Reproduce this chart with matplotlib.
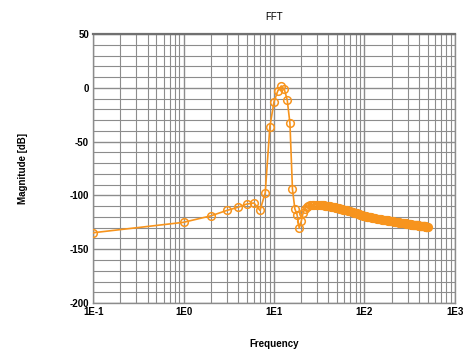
#!/usr/bin/env python
"""FFT magnitude plot (log frequency axis)"""

import numpy as np
import matplotlib.pyplot as plt
from matplotlib import font_manager
from matplotlib.ticker import FixedLocator, FuncFormatter, MultipleLocator

plt.rcParams['axes.unicode_minus'] = False

# pick the regular-width Liberation Sans files (not the Narrow ones)
def find_font(name):
    for f in font_manager.fontManager.ttflist:
        if f.fname.endswith(name):
            return font_manager.FontProperties(fname=f.fname)
    return font_manager.FontProperties(family='DejaVu Sans')

font_reg = find_font('LiberationSans-Regular.ttf')
font_bold = find_font('LiberationSans-Bold.ttf')
font_reg.set_size(7)
font_bold.set_size(7)

#%%
### Data ###
# low bins: DC shown at 0.1 Hz, then 1..21 Hz
head_freq = [0.1, 1, 2, 3, 4, 5, 6, 7, 8, 9, 10, 11, 12, 13, 14, 15, 16, 17, 18, 19, 20, 21]
head_mag = [-134.7, -125.0, -119.0, -114.0, -111.0, -108.0, -107.0, -114.0, -97.5, -36.0,
            -13.0, -3.0, 1.7, -1.4, -11.3, -33.0, -94.4, -112.5, -118.0, -130.5, -124.0, -116.0]

# tail bins (22..500 Hz)
tail_freq = list(range(22, 61)) + list(range(62, 121, 2)) + list(range(124, 249, 4)) + list(range(255, 501, 5))
tail_mag = [
    -112.5, -110.6, -109.6, -109.1, -108.8, -108.7, -108.6, -108.6, -108.6, -108.7,
    -108.8, -108.9, -109.0, -109.2, -109.3, -109.5, -109.6, -109.8, -110.0, -110.2,
    -110.3, -110.5, -110.7, -110.9, -111.0, -111.2, -111.4, -111.6, -111.8, -111.9,
    -112.1, -112.3, -112.5, -112.6, -112.8, -112.9, -113.1, -113.2, -113.3,
    # 62..120 step 2
    -113.6, -114.0, -114.3, -114.6, -114.9, -115.3, -115.6, -115.9, -116.2, -116.5,
    -116.8, -117.1, -117.4, -117.7, -118.0, -118.2, -118.5, -118.7, -119.0, -119.2,
    -119.4, -119.5, -119.7, -119.8, -120.0, -120.1, -120.3, -120.4, -120.5, -120.6,
    # 124..248 step 4
    -120.8, -121.1, -121.3, -121.5, -121.7, -121.9, -122.1, -122.3, -122.4, -122.6,
    -122.7, -122.9, -123.0, -123.2, -123.3, -123.4, -123.5, -123.6, -123.7, -123.8,
    -124.0, -124.1, -124.3, -124.4, -124.5, -124.7, -124.8, -124.9, -125.0, -125.1,
    -125.2, -125.3,
    # 255..500 step 5
    -125.5, -125.6, -125.7, -125.8, -125.9, -126.0, -126.1, -126.3, -126.4, -126.5,
    -126.6, -126.7, -126.8, -126.9, -127.0, -127.1, -127.1, -127.2, -127.3, -127.4,
    -127.4, -127.5, -127.6, -127.7, -127.7, -127.8, -127.8, -127.9, -127.9, -128.0,
    -128.1, -128.1, -128.2, -128.3, -128.3, -128.4, -128.4, -128.5, -128.6, -128.6,
    -128.7, -128.7, -128.8, -128.8, -128.9, -128.9, -128.9, -129.0, -129.0, -129.0,
]

freq = head_freq + tail_freq
mag = head_mag + tail_mag

x_ticks = [0.1, 1, 10, 100, 1000]
y_ticks = [50, 0, -50, -100, -150, -200]

#%%
### Plot ###
orange = '#F7941D'
grid_col = '#8c8c8c'

fig = plt.figure(figsize=(4.68, 3.54), dpi=100)
ax = fig.add_axes([0.199, 0.144, 0.773, 0.760])

ax.plot(freq, mag, color=orange, lw=1.2, marker='o', ms=5.5,
        mfc='none', mec=orange, mew=1.1, zorder=3)

ax.set_xscale('log')
ax.set_xlim(0.1, 1000)
ax.set_ylim(-200, 50)

ax.xaxis.set_major_locator(FixedLocator(x_ticks))
ax.xaxis.set_major_formatter(FuncFormatter(lambda v, p: f"1E{int(round(np.log10(v)))}"))
ax.yaxis.set_major_locator(FixedLocator(y_ticks))
ax.yaxis.set_minor_locator(MultipleLocator(10))

ax.grid(True, which='major', color=grid_col, lw=1.0)
ax.grid(True, which='minor', color=grid_col, lw=0.8)
ax.tick_params(which='both', length=0, pad=3)
for lab in ax.get_xticklabels() + ax.get_yticklabels():
    lab.set_fontproperties(font_bold)

for s in ax.spines.values():
    s.set_color(grid_col)
    s.set_linewidth(1.0)
ax.spines['top'].set_color('#707070')
ax.spines['top'].set_linewidth(1.6)

ax.set_title("FFT", fontproperties=font_reg, pad=10)
ax.set_xlabel("Frequency", fontproperties=font_bold, labelpad=16)
ax.set_ylabel("Magnitude [dB]", fontproperties=font_bold, labelpad=30)

fig.savefig("out.png", dpi=100)
